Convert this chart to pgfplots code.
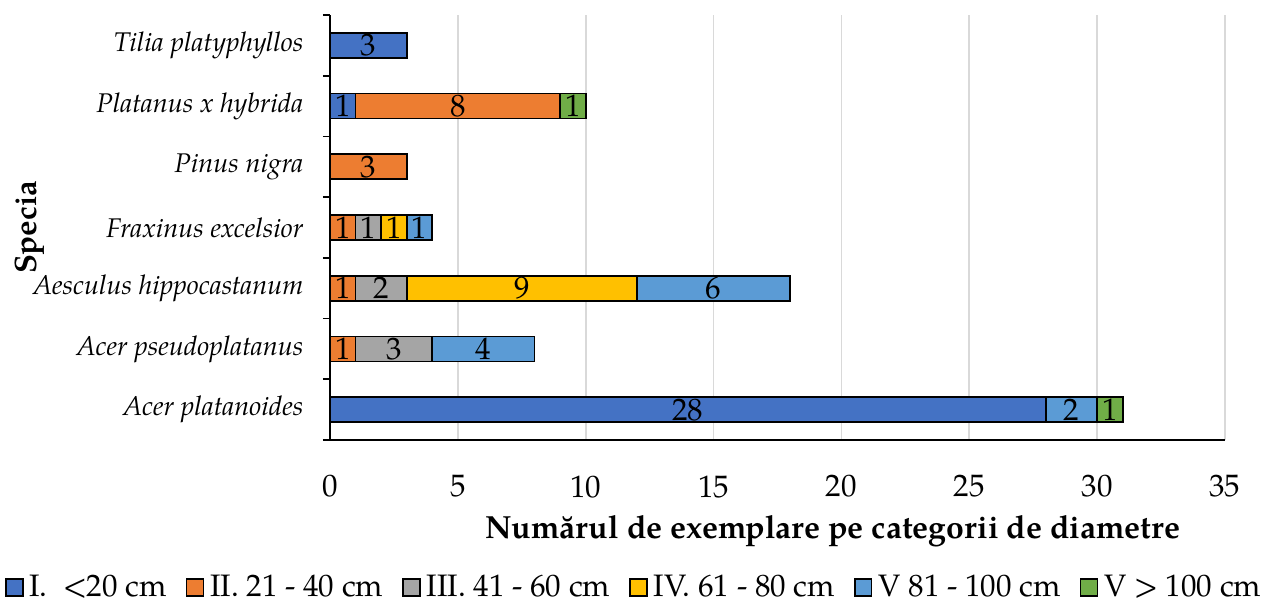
\documentclass[border=0pt]{standalone}
\usepackage{fontspec}
\setmainfont{TeX Gyre Pagella}
\usepackage{pgfplots}
\pgfplotsset{compat=1.18}

\definecolor{cI}{HTML}{4472C4}
\definecolor{cII}{HTML}{ED7D31}
\definecolor{cIII}{HTML}{A5A5A5}
\definecolor{cIV}{HTML}{FFC000}
\definecolor{cV}{HTML}{5B9BD5}
\definecolor{cVI}{HTML}{70AD47}

\begin{document}
\begin{tikzpicture}[font=\fontsize{15.5}{18}\selectfont]
\begin{axis}[
    scale only axis,
    width=447.5pt, height=212.5pt,
    xbar stacked,
    bar width=12.5pt,
    xmin=0, xmax=35,
    ymin=-0.5, ymax=6.5,
    enlarge x limits=false,
    clip=false,
    axis x line*=bottom,
    axis y line*=left,
    axis line style={black, line width=0.8pt},
    xtick={0,5,...,35},
    xmajorgrids,
    grid style={draw=black!15, line width=0.8pt},
    major x tick style={draw=none},
    ytick={0,...,6},
    yticklabels={Acer platanoides, Acer pseudoplatanus, Aesculus hippocastanum,
        Fraxinus excelsior, Pinus nigra, Platanus x hybrida, Tilia platyphyllos},
    major y tick style={draw=none},
    minor ytick={-0.5,0.5,...,6.5},
    minor y tick style={black, line width=0.8pt},
    minor tick length=3.5pt,
    tick align=outside,
    yticklabel style={font=\fontsize{13.5}{16}\selectfont\itshape, xshift=-5.5pt},
    xticklabel style={yshift=-10pt},
    /pgf/number format/assume math mode=true,
    xlabel={\textbf{Numărul de exemplare pe categorii de diametre}},
    xlabel style={at={(axis description cs:0.562,-0.214)}, anchor=center,
        font=\fontsize{16}{19}\selectfont},
    ylabel={\textbf{Specia}},
    ylabel style={at={(axis description cs:-0.335,0.5)}, anchor=center,
        font=\fontsize{15.5}{18}\selectfont},
    visualization depends on=rawx \as \rawx,
    nodes near coords={\ifdim\rawx pt>0pt \pgfmathprintnumber{\rawx}\fi},
    every node near coord/.append style={anchor=center, text=black, inner sep=0pt,
        font=\fontsize{15.5}{18}\selectfont},
    legend columns=6,
    legend style={draw=none, inner sep=0pt, outer sep=0pt,
        at={(axis description cs:0.341,-0.347)}, anchor=center,
        /tikz/every even column/.append style={column sep=7.5pt},
        /tikz/every odd column/.append style={column sep=1pt},
        font=\fontsize{15.5}{18}\selectfont},
    legend image code/.code={\draw[#1, line width=0.8pt] (0pt,-4.2pt) rectangle (8.4pt,4.2pt);},
]
% order of y: Acer platanoides, Acer pseudoplatanus, Aesculus, Fraxinus, Pinus, Platanus, Tilia
\addplot+[fill=cI, draw=black, line width=0.9pt] coordinates
    {(28,0) (0,1) (0,2) (0,3) (0,4) (1,5) (3,6)};
\addplot+[fill=cII, draw=black, line width=0.9pt] coordinates
    {(0,0) (1,1) (1,2) (1,3) (3,4) (8,5) (0,6)};
\addplot+[fill=cIII, draw=black, line width=0.9pt] coordinates
    {(0,0) (3,1) (2,2) (1,3) (0,4) (0,5) (0,6)};
\addplot+[fill=cIV, draw=black, line width=0.9pt] coordinates
    {(0,0) (0,1) (9,2) (1,3) (0,4) (0,5) (0,6)};
\addplot+[fill=cV, draw=black, line width=0.9pt] coordinates
    {(2,0) (4,1) (6,2) (1,3) (0,4) (0,5) (0,6)};
\addplot+[fill=cVI, draw=black, line width=0.9pt] coordinates
    {(1,0) (0,1) (0,2) (0,3) (0,4) (1,5) (0,6)};
\legend{I.\ \ <20 cm, II. 21 - 40 cm, III. 41 - 60 cm, IV. 61 - 80 cm, V 81 - 100 cm, V > 100 cm}
\path (axis description cs:-0.3687,1.0353) rectangle (axis description cs:1.0514,-0.3882);
\end{axis}
\end{tikzpicture}
\end{document}
